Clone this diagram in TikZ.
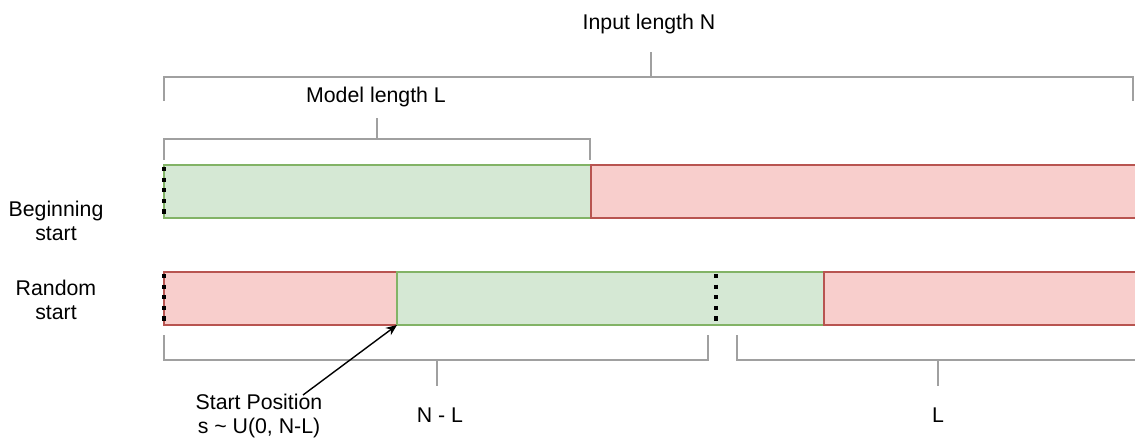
\documentclass[tikz,border=0pt]{standalone}
\usepackage{fontspec}
\setmainfont{Liberation Sans}
\usetikzlibrary{arrows.meta}
\definecolor{gfill}{HTML}{D5E8D4}
\definecolor{gline}{HTML}{82B366}
\definecolor{rfill}{HTML}{F8CECC}
\definecolor{rline}{HTML}{B85450}
\definecolor{brk}{HTML}{A0A0A0}
\tikzset{
  lbl/.style={inner sep=0pt, align=center, font=\fontsize{21.3}{24}\selectfont},
  greenbar/.style={draw=gline, fill=gfill, line width=1.5pt},
  redbar/.style={draw=rline, fill=rfill, line width=1.5pt},
  bracketline/.style={draw=brk, line width=2.2pt},
  dots/.style={draw=black, line width=4.2pt, dash pattern=on 4.2pt off 6.4pt},
  pointer/.style={draw=black, line width=1.4pt, -{Stealth[length=11pt,width=9pt]}}
}
\begin{document}
\begin{tikzpicture}[x=1pt,y=-1pt]
\useasboundingbox (0,0) rectangle (1135,439);
% bars
\path[greenbar] (164,165) rectangle (591,218);
\path[redbar] (591,165) rectangle (1140,218);
\node[inner sep=0pt, minimum size=0pt] (bstart) at (164,165) {};
\node[inner sep=0pt, minimum size=0pt] (bend) at (164,218) {};
\path[redbar] (164,272) rectangle (397,325);
\path[greenbar] (397,272) rectangle (824,325);
\path[redbar] (824,272) rectangle (1140,325);
\coordinate (tip) at (397,325);
\coordinate (r1t) at (164,272);
\coordinate (r1b) at (164,325);
\coordinate (r2t) at (716,272);
\coordinate (r2b) at (716,325);
% dotted markers
\draw[dots] (bstart.center) ++(0,2) -- (bend.center);
\draw[dots] (r1t) ++(0,2) -- (r1b);
\draw[dots] (r2t) ++(0,2) -- (r2b);
% brackets
\draw[bracketline] (164,101) -- (164,77) -- (1133,77) -- (1133,101);
\draw[bracketline] (651,77) -- (651,52);
\draw[bracketline] (164,160) -- (164,139) -- (590,139) -- (590,160);
\draw[bracketline] (377,139) -- (377,118);
\draw[bracketline] (164,335) -- (164,360) -- (708,360) -- (708,335);
\draw[bracketline] (437,360) -- (437,386);
\draw[bracketline] (737,335) -- (737,360) -- (1135,360);
\draw[bracketline] (938,360) -- (938,386);
% labels
\node[lbl] (inN) at (649,24) {Input length N};
\node[lbl] (modL) at (376,97) {Model length L};
\node[lbl] (beg) at (56,221) {Beginning\\start};
\node[lbl] (rnd) at (56,300) {Random\\start};
\node[lbl] (nl) at (440,415) {N - L};
\node[lbl] (ll) at (938,415) {L};
\node[lbl] (sp) at (259,416) {Start Position\\s \textasciitilde{} U(0, N-L)};
\coordinate (spfrom) at (303,395);
\draw[pointer] (spfrom) -- (tip);
\end{tikzpicture}
\end{document}
